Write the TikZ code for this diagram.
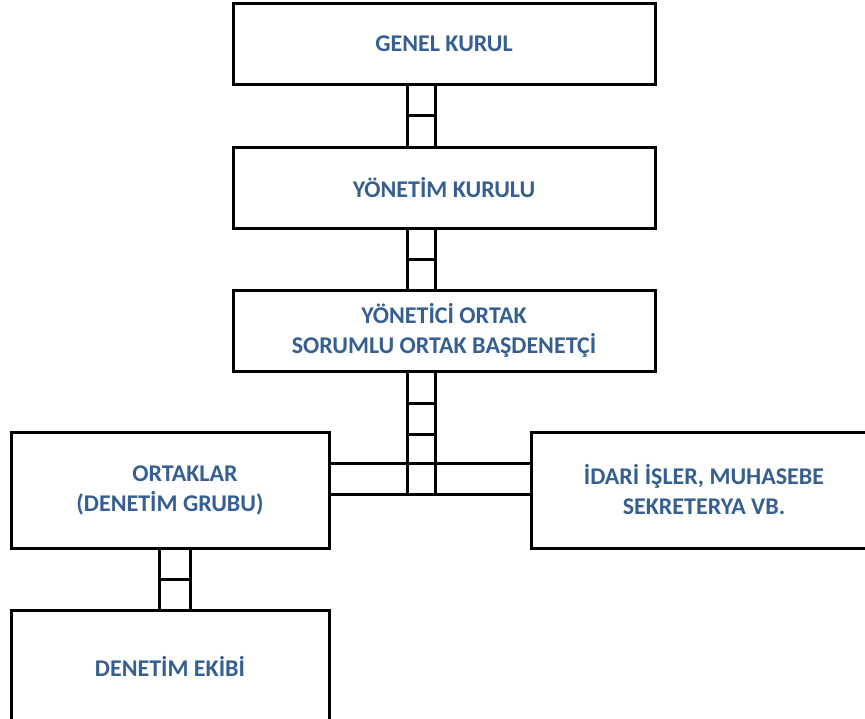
\documentclass[tikz,border=0pt]{standalone}
\usepackage{fontspec}
\setmainfont{Carlito}
\usetikzlibrary{calc}
\definecolor{titleblue}{RGB}{54,95,145}

\begin{document}
\begin{tikzpicture}[x=1pt, y=-1pt]
	\tikzstyle{box}=[draw=black, line width=3pt, text=titleblue, font=\fontsize{24}{30}\selectfont\bfseries, align=center, inner sep=0pt]
	\tikzstyle{wide}=[box, minimum width=422pt, minimum height=81pt]
	\tikzstyle{side}=[box, minimum width=318pt, minimum height=116pt]
	\tikzstyle{link}=[draw=black, line width=3pt]

	\useasboundingbox (0,0) rectangle (865,718);
	\clip (0,0) rectangle (865,718);

	% Draw boxes
	\node[wide] (genel) at (444,43.5) {GENEL KURUL};
	\node[wide] (yonetim) at (444,187.5) {YÖNETİM KURULU};
	\node[wide] (yonetici) at (444,330.5) {YÖNETİCİ ORTAK\\SORUMLU ORTAK BAŞDENETÇİ};
	\node[side] (ortaklar) at (170,490) {\hspace*{30pt}ORTAKLAR\\(DENETİM GRUBU)};
	\node[side, minimum width=346pt] (idari) at (704,490) {İDARİ İŞLER, MUHASEBE\\SEKRETERYA VB.};
	\node[side, minimum height=112pt] (ekip) at (170,666) {DENETİM EKİBİ};

	\coordinate (hub) at (421,494);
	\coordinate (hubtop) at (421,463);

	% Draw connectors
	\foreach \dx in {-37,-9} {
		\draw[link] ([xshift=\dx pt]genel.south) -- ([xshift=\dx pt]yonetim.north);
		\draw[link] ([xshift=\dx pt]yonetim.south) -- ([xshift=\dx pt]yonetici.north);
		\draw[link] ([xshift=\dx pt]yonetici.south) -- ([xshift=\dx pt]yonetici.south |- hub);
	}
	\foreach \dx in {-11,20} {
		\draw[link] ([xshift=\dx pt]ortaklar.south) -- ([xshift=\dx pt]ekip.north);
	}
	\draw[link] (ortaklar.east |- hubtop) -- (idari.west |- hubtop);
	\draw[link] (ortaklar.east |- hub) -- (idari.west |- hub);

	% Draw rungs
	\draw[link] ($(genel.south)!.5!(yonetim.north) + (-37,0)$) -- +(28,0);
	\draw[link] ($(yonetim.south)!.5!(yonetici.north) + (-37,0)$) -- +(28,0);
	\draw[link] ([xshift=-37pt,yshift=-31pt]yonetici.south) -- +(28,0);
	\draw[link] ([xshift=-37pt,yshift=-62pt]yonetici.south) -- +(28,0);
	\draw[link] ($(ortaklar.south)!.5!(ekip.north) + (-11,0)$) -- +(31,0);
\end{tikzpicture}
\end{document}
